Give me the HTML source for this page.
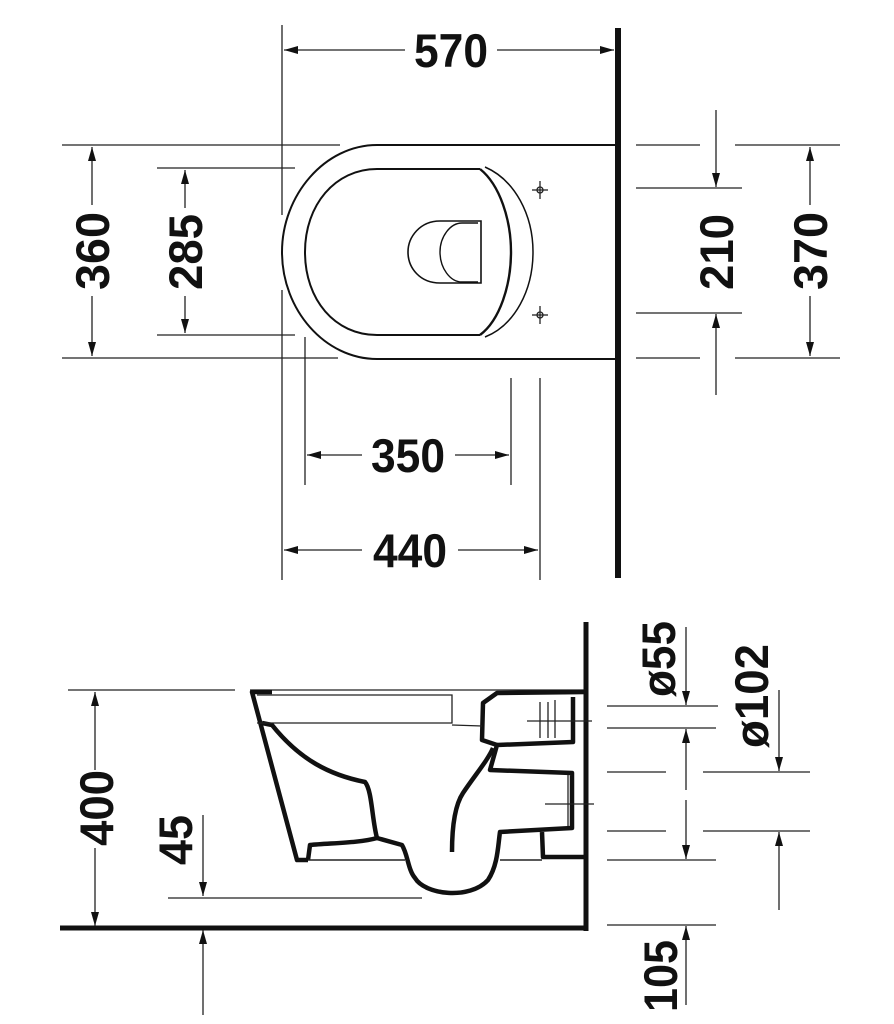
<!DOCTYPE html>
<html><head><meta charset="utf-8"><style>
html,body{margin:0;padding:0;background:#fff;}
svg{display:block;}
text{font-family:"Liberation Sans Narrow","Liberation Sans",sans-serif;font-weight:bold;font-size:47px;fill:#111;text-anchor:middle;}
</style></head><body>
<svg width="894" height="1024" viewBox="0 0 894 1024" xmlns="http://www.w3.org/2000/svg">
<defs>
<marker id="a" viewBox="0 0 14 8" refX="14" refY="4" markerWidth="14" markerHeight="8" markerUnits="userSpaceOnUse" orient="auto">
<path d="M0,0 L14,4 L0,8 z" fill="#111"/></marker>
</defs>
<g stroke="#222" stroke-width="1.3" fill="none">
<line x1="618" y1="28" x2="618" y2="578" stroke="#111" stroke-width="6"/>
<line x1="282" y1="25" x2="282" y2="215"/>
<line x1="282" y1="290" x2="282" y2="580"/>
<line x1="305" y1="337" x2="305" y2="485"/>
<line x1="511" y1="378" x2="511" y2="485"/>
<line x1="540" y1="378" x2="540" y2="580"/>
<line x1="62" y1="145" x2="340" y2="145"/>
<line x1="157" y1="168" x2="295" y2="168"/>
<line x1="157" y1="335" x2="295" y2="335"/>
<line x1="62" y1="358" x2="338" y2="358"/>
<line x1="636" y1="145" x2="700" y2="145"/><line x1="735" y1="145" x2="840" y2="145"/>
<line x1="636" y1="188" x2="742" y2="188"/>
<line x1="636" y1="313" x2="742" y2="313"/>
<line x1="636" y1="358" x2="700" y2="358"/><line x1="735" y1="358" x2="840" y2="358"/>
<line x1="405" y1="50" x2="284" y2="50" marker-end="url(#a)"/>
<line x1="497" y1="50" x2="614" y2="50" marker-end="url(#a)"/>
<line x1="92" y1="205" x2="92" y2="147" marker-end="url(#a)"/>
<line x1="92" y1="296" x2="92" y2="356" marker-end="url(#a)"/>
<line x1="185" y1="208" x2="185" y2="170" marker-end="url(#a)"/>
<line x1="185" y1="296" x2="185" y2="333" marker-end="url(#a)"/>
<line x1="716" y1="110" x2="716" y2="187" marker-end="url(#a)"/>
<line x1="716" y1="395" x2="716" y2="314" marker-end="url(#a)"/>
<line x1="810" y1="205" x2="810" y2="147" marker-end="url(#a)"/>
<line x1="810" y1="296" x2="810" y2="356" marker-end="url(#a)"/>
<line x1="362" y1="455" x2="307" y2="455" marker-end="url(#a)"/>
<line x1="455" y1="455" x2="509" y2="455" marker-end="url(#a)"/>
<line x1="362" y1="550" x2="284" y2="550" marker-end="url(#a)"/>
<line x1="458" y1="550" x2="538" y2="550" marker-end="url(#a)"/>
<path d="M615,145 L377,145 C325,145 282,195 282,252 C282,310 325,359 377,359 L615,359" stroke="#111" stroke-width="2"/>
<path d="M480,169 L377,169 C335,169 305,205 305,252 C305,300 335,335 377,335 L480,335" stroke="#111" stroke-width="2"/>
<path d="M480,169 C500,185 511,220 511,252 C511,285 500,320 480,335" stroke="#111" stroke-width="2.4"/>
<path d="M485,167 C515,180 533,215 533,252 C533,290 515,325 485,337" stroke="#111" stroke-width="1.5"/>
<path d="M481,221 L440,221 C420,221 408,237 408,252 C408,268 420,283 440,283 L481,283 Z" stroke="#111" stroke-width="1.6"/>
<path d="M478,223 L462,223 C450,223 440,237 440,252 C440,268 450,282 462,282 L478,282" stroke="#111" stroke-width="1.4"/>
<circle cx="540" cy="190" r="3"/><line x1="532" y1="190" x2="548" y2="190"/><line x1="540" y1="181" x2="540" y2="199"/>
<circle cx="540" cy="315" r="3"/><line x1="532" y1="315" x2="548" y2="315"/><line x1="540" y1="306" x2="540" y2="324"/>

<line x1="586" y1="622" x2="586" y2="931" stroke="#111" stroke-width="5"/>
<line x1="60" y1="928" x2="588" y2="928" stroke="#111" stroke-width="5"/>
<line x1="68" y1="690" x2="235" y2="690"/>
<line x1="168" y1="898" x2="422" y2="898"/>
<line x1="250" y1="690" x2="586" y2="690"/>
<line x1="607" y1="706" x2="718" y2="706"/>
<line x1="607" y1="728" x2="716" y2="728"/>
<line x1="607" y1="772" x2="666" y2="772"/><line x1="703" y1="772" x2="810" y2="772"/>
<line x1="607" y1="831" x2="666" y2="831"/><line x1="703" y1="831" x2="810" y2="831"/>
<line x1="607" y1="860" x2="716" y2="860"/>
<line x1="607" y1="925" x2="716" y2="925"/>
<line x1="95" y1="770" x2="95" y2="692" marker-end="url(#a)"/>
<line x1="95" y1="848" x2="95" y2="926" marker-end="url(#a)"/>
<line x1="203" y1="815" x2="203" y2="896" marker-end="url(#a)"/>
<line x1="203" y1="1015" x2="203" y2="930" marker-end="url(#a)"/>
<line x1="686" y1="627" x2="686" y2="705" marker-end="url(#a)"/>
<line x1="686" y1="790" x2="686" y2="729" marker-end="url(#a)"/>
<line x1="686" y1="800" x2="686" y2="859" marker-end="url(#a)"/>
<line x1="779" y1="690" x2="779" y2="771" marker-end="url(#a)"/>
<line x1="779" y1="910" x2="779" y2="832" marker-end="url(#a)"/>
<line x1="686" y1="1005" x2="686" y2="926" marker-end="url(#a)"/>
<g stroke="#111" stroke-width="4.5" stroke-linejoin="round">
<path d="M272,692 L252,692 L297,860 L308,860"/>
<path d="M262,723 L272,725 C300,760 330,775 365,782 C372,790 372,820 377,838 C360,843 330,843 310,845 L308,860"/>
<path d="M377,838 L402,845 C408,855 408,870 415,878 C425,895 470,900 488,880 C498,865 498,845 500,832 L572,828 L572,773 L490,770 L497,745 L573,742 L573,697"/>
<path d="M586,692 L497,693 L483,703 L482,740 L497,745"/>
<path d="M452,852 C452,825 455,805 463,793 C475,775 488,760 493,748"/>
<path d="M542,832 L543,857 L586,857"/>
</g>
<path d="M257,695 L452,695 L452,723 L257,723" stroke-width="1.3"/>
<line x1="452" y1="725" x2="482" y2="726"/>
<line x1="527" y1="721" x2="592" y2="721"/>
<line x1="545" y1="804" x2="594" y2="804"/>
<path d="M540,702 L540,738 M548,702 L548,738 M555,700 L555,738"/>
<path d="M568,775 L568,826"/>
<line x1="308" y1="860" x2="405" y2="860" stroke-width="1.5"/>
<line x1="500" y1="860" x2="542" y2="860" stroke-width="1.5"/>
</g>
<g>
<text x="451" y="67" textLength="74" lengthAdjust="spacingAndGlyphs">570</text>
<text x="408" y="472" textLength="74" lengthAdjust="spacingAndGlyphs">350</text>
<text x="410" y="567" textLength="74" lengthAdjust="spacingAndGlyphs">440</text>
<text transform="translate(109,251) rotate(-90)" textLength="78" lengthAdjust="spacingAndGlyphs">360</text>
<text transform="translate(202,252) rotate(-90)" textLength="76" lengthAdjust="spacingAndGlyphs">285</text>
<text transform="translate(733,252) rotate(-90)" textLength="76" lengthAdjust="spacingAndGlyphs">210</text>
<text transform="translate(827,251) rotate(-90)" textLength="78" lengthAdjust="spacingAndGlyphs">370</text>
<text transform="translate(113,808) rotate(-90)" textLength="76" lengthAdjust="spacingAndGlyphs">400</text>
<text transform="translate(192,840) rotate(-90)" textLength="50" lengthAdjust="spacingAndGlyphs">45</text>
<text transform="translate(675,659) rotate(-90)" textLength="76" lengthAdjust="spacingAndGlyphs">ø55</text>
<text transform="translate(768,696) rotate(-90)" textLength="104" lengthAdjust="spacingAndGlyphs">ø102</text>
<text transform="translate(677,976) rotate(-90)" textLength="72" lengthAdjust="spacingAndGlyphs">105</text>
</g>
</svg>
</body></html>
